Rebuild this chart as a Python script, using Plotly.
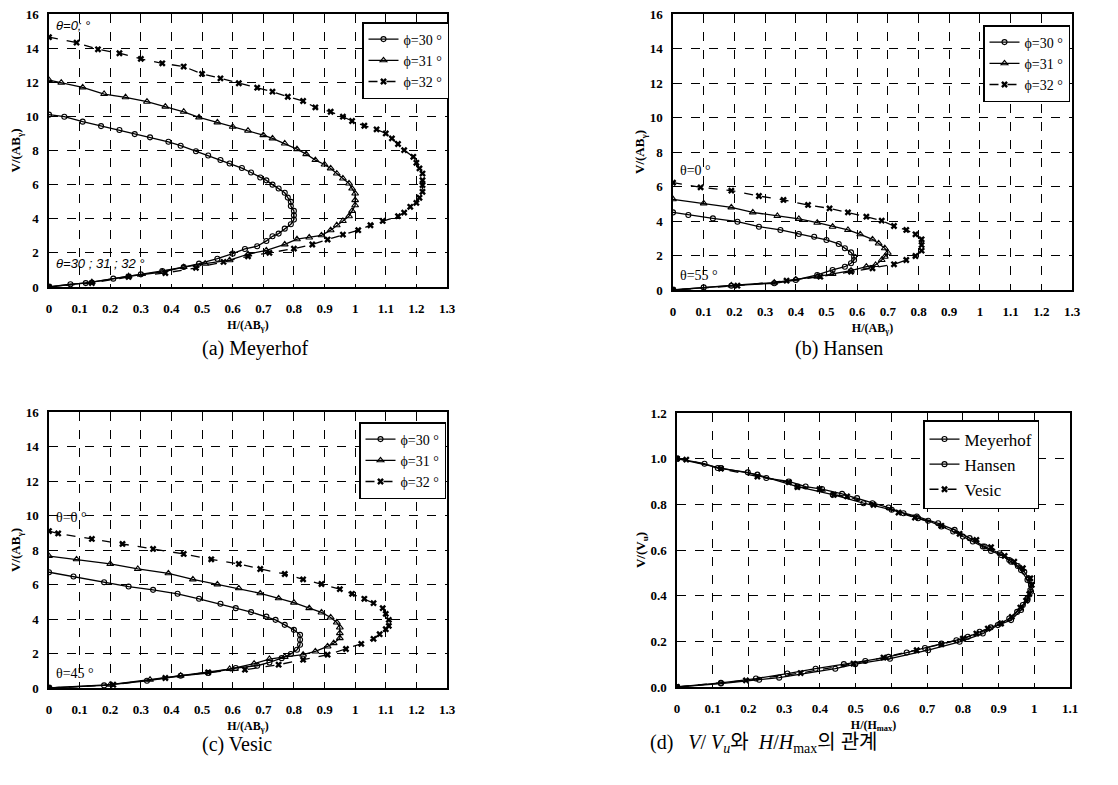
import plotly.graph_objects as go

# ---------------- data ----------------
# (a) Meyerhof
a30_h = [0, 0.05, 0.11, 0.17, 0.23, 0.28, 0.33, 0.39, 0.43, 0.48, 0.52, 0.56, 0.59, 0.63, 0.66, 0.69, 0.71, 0.73, 0.75, 0.77, 0.78, 0.79, 0.79, 0.80, 0.80, 0.80, 0.79, 0.77, 0.75, 0.73, 0.71, 0.68, 0.64, 0.60, 0.55, 0.49, 0.44, 0.37, 0.30, 0.21, 0.12, 0.07, 0]
a30_v = [10.1, 9.98, 9.69, 9.43, 9.2, 8.96, 8.77, 8.51, 8.28, 7.96, 7.71, 7.44, 7.24, 6.97, 6.71, 6.42, 6.25, 6.0, 5.77, 5.52, 5.24, 4.99, 4.74, 4.46, 4.2, 3.95, 3.68, 3.42, 3.13, 2.97, 2.7, 2.39, 2.23, 1.96, 1.66, 1.37, 1.17, 0.94, 0.74, 0.49, 0.23, 0.16, 0]
a31_h = [0, 0.04, 0.11, 0.18, 0.25, 0.32, 0.38, 0.44, 0.49, 0.55, 0.60, 0.65, 0.70, 0.73, 0.77, 0.81, 0.84, 0.87, 0.90, 0.92, 0.94, 0.96, 0.98, 0.99, 1.0, 1.0, 1.0, 0.99, 0.98, 0.96, 0.94, 0.92, 0.89, 0.85, 0.81, 0.77, 0.71, 0.65, 0.59, 0.51, 0.44, 0.37, 0.26, 0.14, 0]
a31_v = [12.13, 11.98, 11.7, 11.31, 11.12, 10.86, 10.57, 10.27, 9.94, 9.65, 9.39, 9.16, 8.9, 8.71, 8.41, 8.08, 7.79, 7.44, 7.18, 6.95, 6.65, 6.36, 6.07, 5.77, 5.48, 5.09, 4.79, 4.46, 4.15, 3.87, 3.62, 3.33, 3.03, 2.9, 2.8, 2.5, 2.15, 1.92, 1.57, 1.37, 1.17, 0.88, 0.63, 0.29, 0]
a32_h = [0, 0.09, 0.16, 0.23, 0.30, 0.37, 0.44, 0.50, 0.56, 0.62, 0.68, 0.73, 0.78, 0.83, 0.87, 0.92, 0.96, 0.99, 1.03, 1.07, 1.10, 1.12, 1.14, 1.16, 1.19, 1.20, 1.21, 1.22, 1.22, 1.22, 1.22, 1.21, 1.20, 1.18, 1.16, 1.14, 1.09, 1.05, 1.01, 0.96, 0.91, 0.86, 0.80, 0.72, 0.65, 0.57, 0.48, 0.38, 0.26, 0.14, 0]
a32_v = [14.64, 14.32, 13.93, 13.7, 13.37, 13.11, 12.92, 12.49, 12.23, 11.94, 11.68, 11.45, 11.15, 10.9, 10.53, 10.27, 9.98, 9.73, 9.45, 9.24, 9.0, 8.71, 8.38, 8.02, 7.63, 7.28, 6.95, 6.65, 6.26, 5.97, 5.58, 5.23, 4.93, 4.70, 4.36, 4.15, 3.87, 3.62, 3.33, 3.07, 2.78, 2.49, 2.25, 2.0, 1.8, 1.47, 1.12, 0.82, 0.59, 0.23, 0]

# (b) Hansen
b30_h = [0, 0.05, 0.13, 0.21, 0.28, 0.35, 0.41, 0.46, 0.50, 0.54, 0.56, 0.58, 0.59, 0.59, 0.58, 0.56, 0.52, 0.47, 0.40, 0.33, 0.19, 0.10, 0]
b30_v = [4.5, 4.35, 4.15, 3.96, 3.67, 3.48, 3.25, 3.09, 2.9, 2.67, 2.42, 2.18, 1.93, 1.74, 1.55, 1.35, 1.16, 0.87, 0.58, 0.39, 0.25, 0.15, 0]
b31_h = [0, 0.10, 0.19, 0.26, 0.34, 0.41, 0.47, 0.52, 0.57, 0.61, 0.65, 0.67, 0.69, 0.70, 0.69, 0.68, 0.66, 0.63, 0.58, 0.52, 0.47, 0.40, 0.33, 0.19, 0]
b31_v = [5.26, 5.02, 4.79, 4.5, 4.29, 4.12, 3.9, 3.67, 3.48, 3.23, 2.94, 2.7, 2.42, 2.16, 1.93, 1.74, 1.45, 1.35, 1.12, 0.93, 0.77, 0.62, 0.43, 0.27, 0]
b32_h = [0, 0.09, 0.19, 0.28, 0.36, 0.44, 0.51, 0.57, 0.63, 0.68, 0.72, 0.76, 0.79, 0.81, 0.81, 0.81, 0.79, 0.76, 0.72, 0.65, 0.58, 0.48, 0.37, 0.21, 0]
b32_v = [6.22, 5.95, 5.76, 5.45, 5.22, 4.93, 4.73, 4.5, 4.25, 4.02, 3.71, 3.48, 3.23, 2.94, 2.61, 2.28, 1.97, 1.74, 1.49, 1.26, 1.06, 0.77, 0.54, 0.25, 0]

# (c) Vesic
c30_h = [0, 0.08, 0.18, 0.26, 0.34, 0.42, 0.49, 0.56, 0.61, 0.66, 0.71, 0.74, 0.77, 0.80, 0.82, 0.82, 0.82, 0.81, 0.79, 0.76, 0.72, 0.68, 0.61, 0.52, 0.43, 0.32, 0.18, 0]
c30_v = [6.71, 6.46, 6.13, 5.88, 5.69, 5.46, 5.17, 4.88, 4.63, 4.40, 4.14, 3.95, 3.66, 3.37, 3.08, 2.8, 2.51, 2.22, 1.97, 1.73, 1.48, 1.29, 1.16, 0.87, 0.71, 0.42, 0.15, 0]
c31_h = [0, 0.09, 0.20, 0.29, 0.39, 0.47, 0.55, 0.62, 0.69, 0.75, 0.80, 0.85, 0.89, 0.92, 0.94, 0.95, 0.95, 0.95, 0.93, 0.91, 0.87, 0.83, 0.77, 0.72, 0.67, 0.59, 0.43, 0.33, 0.20, 0]
c31_v = [7.65, 7.46, 7.19, 6.90, 6.65, 6.30, 6.01, 5.78, 5.49, 5.2, 4.95, 4.63, 4.38, 4.09, 3.80, 3.51, 3.18, 2.89, 2.6, 2.41, 2.12, 1.93, 1.8, 1.68, 1.41, 1.10, 0.71, 0.48, 0.19, 0]
c32_h = [0, 0.03, 0.14, 0.24, 0.34, 0.44, 0.53, 0.62, 0.69, 0.77, 0.83, 0.89, 0.95, 0.99, 1.03, 1.06, 1.09, 1.10, 1.11, 1.11, 1.10, 1.08, 1.06, 1.02, 0.97, 0.91, 0.83, 0.75, 0.64, 0.52, 0.38, 0.21, 0]
c32_v = [9.1, 8.96, 8.64, 8.35, 8.06, 7.77, 7.46, 7.19, 6.9, 6.61, 6.30, 6.03, 5.73, 5.46, 5.17, 4.92, 4.63, 4.30, 3.95, 3.6, 3.41, 3.12, 2.85, 2.56, 2.26, 1.93, 1.64, 1.35, 1.06, 0.91, 0.58, 0.19, 0]

# (d) normalised
dM_h = [0, 0.077, 0.114, 0.198, 0.25, 0.313, 0.36, 0.406, 0.462, 0.504, 0.547, 0.592, 0.634, 0.675, 0.703, 0.74, 0.773, 0.80, 0.828, 0.856, 0.879, 0.907, 0.93, 0.954, 0.972, 0.984, 0.991, 0.991, 0.981, 0.968, 0.952, 0.93, 0.905, 0.878, 0.847, 0.814, 0.782, 0.74, 0.694, 0.643, 0.592, 0.527, 0.467, 0.388, 0.309, 0.221, 0.123, 0]
dM_v = [1.0, 0.978, 0.959, 0.94, 0.915, 0.9, 0.878, 0.867, 0.846, 0.827, 0.805, 0.786, 0.761, 0.739, 0.728, 0.703, 0.681, 0.659, 0.637, 0.615, 0.596, 0.578, 0.556, 0.53, 0.505, 0.476, 0.447, 0.417, 0.388, 0.359, 0.329, 0.3, 0.278, 0.261, 0.242, 0.22, 0.205, 0.19, 0.171, 0.151, 0.132, 0.114, 0.1, 0.08, 0.059, 0.037, 0.018, 0]
dH_h = [0, 0.123, 0.225, 0.337, 0.436, 0.522, 0.601, 0.671, 0.731, 0.777, 0.819, 0.861, 0.903, 0.935, 0.963, 0.981, 0.989, 0.981, 0.963, 0.935, 0.898, 0.856, 0.791, 0.703, 0.596, 0.499, 0.443, 0.286, 0.23, 0.123, 0]
dH_v = [1.0, 0.959, 0.93, 0.878, 0.842, 0.805, 0.776, 0.747, 0.717, 0.688, 0.652, 0.615, 0.586, 0.549, 0.512, 0.469, 0.425, 0.381, 0.337, 0.293, 0.271, 0.234, 0.198, 0.161, 0.124, 0.1, 0.08, 0.041, 0.032, 0.015, 0]
dV_h = [0, 0.026, 0.123, 0.225, 0.313, 0.337, 0.399, 0.439, 0.476, 0.55, 0.62, 0.666, 0.74, 0.791, 0.838, 0.879, 0.917, 0.944, 0.968, 0.989, 0.993, 0.986, 0.977, 0.961, 0.937, 0.907, 0.87, 0.838, 0.80, 0.74, 0.671, 0.578, 0.494, 0.346, 0.193, 0]
dV_v = [1.0, 0.996, 0.956, 0.922, 0.897, 0.876, 0.867, 0.842, 0.835, 0.798, 0.764, 0.742, 0.706, 0.671, 0.644, 0.612, 0.574, 0.549, 0.52, 0.476, 0.447, 0.407, 0.378, 0.348, 0.307, 0.278, 0.256, 0.234, 0.212, 0.187, 0.161, 0.129, 0.102, 0.061, 0.029, 0]

phi_names = ["ϕ=30 °", "ϕ=31 °", "ϕ=32 °"]
method_names = ["Meyerhof", "Hansen", "Vesic"]
x_ticks_abc = [0, 0.1, 0.2, 0.3, 0.4, 0.5, 0.6, 0.7, 0.8, 0.9, 1, 1.1, 1.2, 1.3]
y_ticks_abc = [0, 2, 4, 6, 8, 10, 12, 14, 16]
x_ticks_d = [0, 0.1, 0.2, 0.3, 0.4, 0.5, 0.6, 0.7, 0.8, 0.9, 1, 1.1]
y_ticks_d = [0, 0.2, 0.4, 0.6, 0.8, 1.0, 1.2]

# ---------------- figure ----------------
# the page body has an 8px margin, so the figure is drawn 8px in from the window
OFF = 8
W, H = 1118 - 2 * OFF, 785 - 2 * OFF
SERIF = "Liberation Serif, Times New Roman, serif"

def px_x(p):
    return (p - OFF) / W

def px_y(p):
    return 1 - (p - OFF) / H

styles = [
    dict(line=dict(color="black", width=1.3, dash="solid"),
         marker=dict(symbol="circle-open", size=5, color="black", line=dict(width=1.1))),
    dict(line=dict(color="black", width=1.3, dash="solid"),
         marker=dict(symbol="triangle-up-open", size=6, color="black", line=dict(width=1.1))),
    dict(line=dict(color="black", width=1.3, dash="dash"),
         marker=dict(symbol="x", size=6, color="black", line=dict(width=0))),
]

fig = go.Figure()

panels = [
    ("x", "y", "legend", [(a30_h, a30_v), (a31_h, a31_v), (a32_h, a32_v)], phi_names),
    ("x2", "y2", "legend2", [(b30_h, b30_v), (b31_h, b31_v), (b32_h, b32_v)], phi_names),
    ("x3", "y3", "legend3", [(c30_h, c30_v), (c31_h, c31_v), (c32_h, c32_v)], phi_names),
    ("x4", "y4", "legend4", [(dM_h, dM_v), (dH_h, dH_v), (dV_h, dV_v)], method_names),
]
for pi, (xa, ya, lg, series, names) in enumerate(panels):
    for si, ((hx, vy), nm) in enumerate(zip(series, names)):
        st = styles[si]
        if pi == 3 and si == 1:
            st = styles[0]
        fig.add_trace(go.Scatter(x=hx, y=vy, mode="lines+markers", name=nm,
                                 xaxis=xa, yaxis=ya, legend=lg,
                                 legendgroup=f"{lg}_{si}",
                                 line=st["line"], marker=st["marker"]))

# domains in window pixels (left, right, top, bottom)
doms = {
    "": (49, 447, 14, 287),
    "2": (673, 1072, 14, 290),
    "3": (49, 447, 412, 688),
    "4": (677, 1070, 413, 687),
}
axis_common = dict(showline=True, mirror=True, linecolor="black", linewidth=1.5,
                   showgrid=True, gridcolor="black", gridwidth=1, griddash="dash",
                   zeroline=False, ticks="", automargin=False, ticklabeloverflow="allow",
                   tickfont=dict(family=SERIF, size=13, color="black", weight="bold"))
xtitles = {"": "H/(AB<sub>γ</sub>)", "2": "H/(AB<sub>γ</sub>)", "3": "H/(AB<sub>γ</sub>)", "4": "H/(H<sub>max</sub>)"}
ytitles = {"": "V/(AB<sub>γ</sub>)", "2": "V/(AB<sub>γ</sub>)", "3": "V/(AB<sub>γ</sub>)", "4": "V/(V<sub>u</sub>)"}
layout = {}
for k, (l, r, t, b) in doms.items():
    is_d = (k == "4")
    layout["xaxis" + k] = dict(axis_common,
                               domain=[px_x(l), px_x(r)],
                               anchor="y" + k,
                               range=[0, 1.1] if is_d else [0, 1.3],
                               tickvals=x_ticks_d if is_d else x_ticks_abc,
                               ticklabelstandoff=9,
                               title=dict(text=xtitles[k], standoff=5,
                                          font=dict(family=SERIF, size=12, color="black", weight="bold")))
    layout["yaxis" + k] = dict(axis_common,
                               domain=[px_y(b), px_y(t)],
                               anchor="x" + k,
                               range=[0, 1.2] if is_d else [0, 16],
                               tickvals=y_ticks_d if is_d else y_ticks_abc,
                               tickformat=".1f" if is_d else None,
                               ticklabelstandoff=6,
                               title=dict(text=ytitles[k], standoff=2,
                                          font=dict(family=SERIF, size=13, color="black", weight="bold")))

leg_pos = {"legend": (362, 22), "legend2": (983, 25), "legend3": (359, 422), "legend4": (923, 420)}
for lg, (lx, ly) in leg_pos.items():
    big = lg == "legend4"
    layout[lg] = dict(x=px_x(lx), y=px_y(ly), xanchor="left", yanchor="top",
                      bgcolor="white", bordercolor="black", borderwidth=1.5,
                      font=dict(family=SERIF, size=17 if big else 14, color="black"),
                      itemwidth=30, tracegroupgap=10 if big else 9, traceorder="normal")
fig.update_layout(**layout)

ann = []
ital = dict(family="Liberation Sans, Arial, sans-serif", size=13, color="black")
ann.append(dict(x=0.015, y=15.35, xref="x", yref="y", text="<i>θ=0; °</i>", showarrow=False, xanchor="left", font=ital))
ann.append(dict(x=0.015, y=1.35, xref="x", yref="y", text="<i>θ=30 ; 31 ; 32 °</i>", showarrow=False, xanchor="left", font=ital))
ser = dict(family=SERIF, size=14, color="black")
ann.append(dict(x=0.015, y=6.9, xref="x2", yref="y2", text="θ=0 °", showarrow=False, xanchor="left", font=ser))
ann.append(dict(x=0.015, y=0.85, xref="x2", yref="y2", text="θ=55 °", showarrow=False, xanchor="left", font=ser))
ann.append(dict(x=0.015, y=9.9, xref="x3", yref="y3", text="θ=0 °", showarrow=False, xanchor="left", font=ser))
ann.append(dict(x=0.015, y=0.85, xref="x3", yref="y3", text="θ=45 °", showarrow=False, xanchor="left", font=ser))

cap = dict(family="Liberation Serif, Noto Sans CJK KR, serif", size=20, color="black")
ann.append(dict(x=px_x(200), y=px_y(348), xref="paper", yref="paper", text="(a) Meyerhof", showarrow=False, font=cap))
ann.append(dict(x=px_x(885), y=px_y(348), xref="paper", yref="paper", text="(b) Hansen", showarrow=False, font=cap))
ann.append(dict(x=px_x(200), y=px_y(758), xref="paper", yref="paper", text="(c) Vesic", showarrow=False, font=cap))
ann.append(dict(x=px_x(880), y=px_y(758), xref="paper", yref="paper",
                text="(d)   <i>V</i>/ <i>V<sub>u</sub></i>와  <i>H</i>/<i>H</i><sub>max</sub>의 관계",
                showarrow=False, font=cap))

fig.update_layout(annotations=ann, width=W, height=H,
                  margin=dict(l=0, r=0, t=0, b=0, autoexpand=False),
                  paper_bgcolor="white", plot_bgcolor="white")

fig.write_html("out.html")
